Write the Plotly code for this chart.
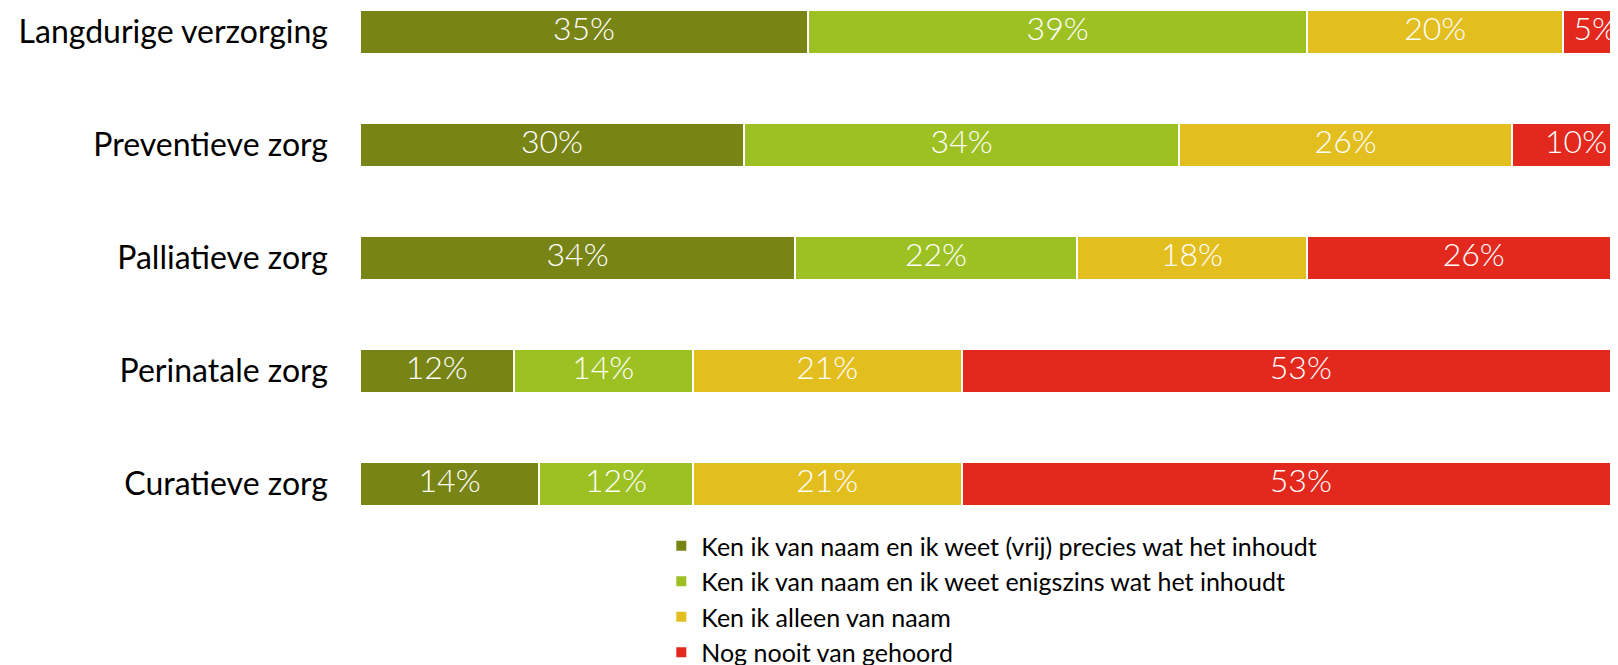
import plotly.graph_objects as go
import numpy as np

categories = ["Langdurige verzorging", "Preventieve zorg", "Palliatieve zorg",
              "Perinatale zorg", "Curatieve zorg"]
series_names = [
    "Ken ik van naam en ik weet (vrij) precies wat het inhoudt",
    "Ken ik van naam en ik weet enigszins wat het inhoudt",
    "Ken ik alleen van naam",
    "Nog nooit van gehoord",
]
precies = [35, 30, 34, 12, 14]
enigszins = [39, 34, 22, 14, 12]
alleen_naam = [20, 26, 18, 21, 21]
nooit = [5, 10, 26, 53, 53]
colors = ["#798416", "#9DC123", "#E3BE1F", "#E3291E"]

series = [precies, enigszins, alleen_naam, nooit]
FONT = "Lato"

fig = go.Figure()
cum = np.zeros(len(categories))
for name, vals, col in zip(series_names, series, colors):
    vals = np.array(vals, dtype=float)
    fig.add_trace(go.Bar(
        y=categories, x=vals, name=name, orientation="h",
        marker=dict(color=col, line=dict(color="white", width=2)),
        width=0.385, hoverinfo="skip",
    ))
    mids = cum + vals / 2
    fig.add_trace(go.Scatter(
        y=categories, x=mids, mode="text",
        text=[f"{int(v)}%" for v in vals],
        textfont=dict(family=FONT, size=32, color="white", weight=300),
        showlegend=False, hoverinfo="skip", cliponaxis=True,
    ))
    cum = cum + vals

fig.update_layout(
    width=1618, height=665,
    barmode="stack",
    plot_bgcolor="white", paper_bgcolor="white",
    margin=dict(l=352, r=0, t=0, b=150, autoexpand=False),
    font=dict(family=FONT, color="black"),
    showlegend=True,
    legend=dict(
        x=0.238, y=0.0, xanchor="left", yanchor="top",
        traceorder="normal",
        font=dict(family=FONT, size=25, color="black"),
        bgcolor="rgba(0,0,0,0)",
    ),
    xaxis=dict(range=[0, 98.9], showgrid=False, zeroline=False,
               showticklabels=False, showline=False, fixedrange=True),
    yaxis=dict(categoryorder="array", categoryarray=categories[::-1],
               range=[-0.346, 4.212], showgrid=False, zeroline=False,
               showline=False, tickfont=dict(family=FONT, size=32, color="black"),
               ticklabelstandoff=31, ticks=""),
)

fig.write_html("out.html")
